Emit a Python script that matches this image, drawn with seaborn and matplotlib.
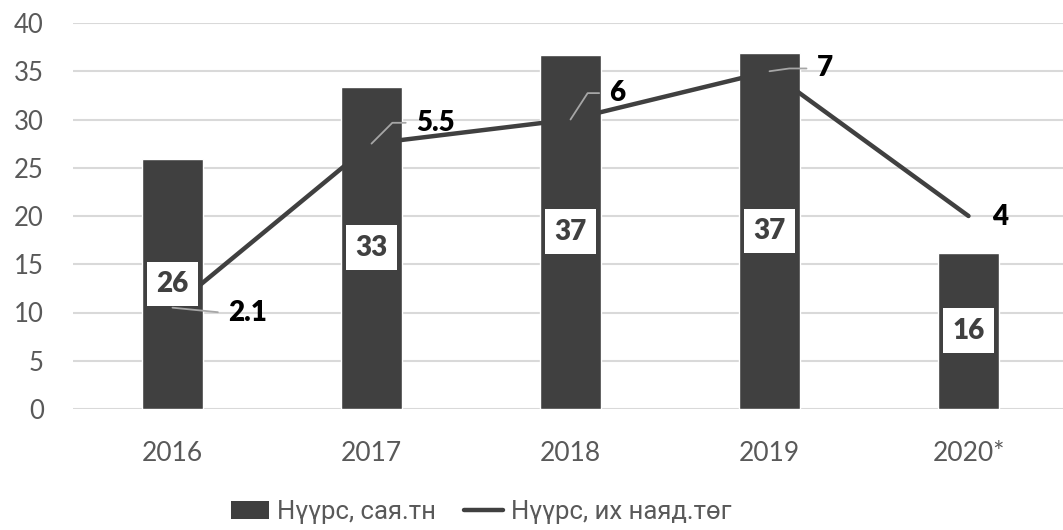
import matplotlib
matplotlib.use("Agg")
import matplotlib.pyplot as plt
import seaborn as sns
import numpy as np
import pandas as pd
from matplotlib.font_manager import FontProperties
from matplotlib.patches import Patch
from matplotlib.lines import Line2D

# data
years = ["2016", "2017", "2018", "2019", "2020*"]
coal_mt = [25.9, 33.4, 36.7, 36.9, 16.2]          # Нүүрс, сая.тн (left axis)
coal_trn_mnt = [2.1, 5.5, 6, 7, 4]                # Нүүрс, их наяд.төг (hidden right axis)
line_labels = ["2.1", "5.5", "6", "7", "4"]
bar_name = "Нүүрс, сая.тн"
line_name = "Нүүрс, их наяд.төг"

DARK = "#404040"
GRID = "#d9d9d9"
TICK = "#595959"
LEADER = "#a6a6a6"

sns.set_theme(style="white")
plt.rcParams["font.family"] = ["Lato", "DejaVu Sans"]

fig = plt.figure(figsize=(10.63, 5.30), dpi=100)
ax = fig.add_axes([73 / 1063, 121 / 530, 995 / 1063, 386 / 530])

df = pd.DataFrame({"year": years, "value": coal_mt})
sns.barplot(data=df, x="year", y="value", color=DARK, saturation=1,
            width=0.31, ax=ax, zorder=2)

ax.set_ylim(0, 40)
ax.set_yticks(range(0, 41, 5))
ax.set_xlim(-0.5, len(years) - 0.5)
ax.yaxis.grid(True, color=GRID, lw=1.5)
ax.set_axisbelow(True)
for s in ax.spines.values():
    s.set_visible(False)
ax.set_xlabel("")
ax.set_ylabel("")
ax.tick_params(axis="y", length=0, pad=21, labelsize=18.5, labelcolor=TICK)
ax.tick_params(axis="x", length=0, pad=23, labelsize=19, labelcolor=TICK)

# line on a hidden secondary axis
ax2 = ax.twinx()
ax2.set_ylim(0, 8)
ax2.axis("off")
xs = np.arange(len(years))
sns.lineplot(x=xs, y=coal_trn_mnt, ax=ax2, color=DARK, lw=3.2, zorder=2)

# line labels with leader lines (offsets in points)
offsets = [(40, -4), (32, 15), (28, 19), (34, 2), (17, -1)]
connectors = ["arc3,rad=0", "angle,angleA=0,angleB=45,rad=0",
              "angle,angleA=0,angleB=57,rad=0", "angle,angleA=0,angleB=8,rad=0", None]
for i, (v, lab) in enumerate(zip(coal_trn_mnt, line_labels)):
    arrow = None
    if connectors[i]:
        arrow = dict(arrowstyle="-", color=LEADER, lw=1.3, shrinkA=5, shrinkB=0,
                     relpos=(0, 0.5), connectionstyle=connectors[i])
    ax2.annotate(lab, xy=(xs[i], v), xytext=offsets[i], textcoords="offset points",
                 ha="left", va="center", fontsize=20, fontweight="heavy",
                 color="black", arrowprops=arrow, zorder=3)

# bar value boxes, drawn above the line
for i, v in enumerate(coal_mt):
    ax2.annotate(f"{v:.0f}", xy=(xs[i], v / 2), xycoords=ax.transData,
                 ha="center", va="center", fontsize=20, fontweight="heavy", color=DARK,
                 bbox=dict(boxstyle="square,pad=0.34", fc="white", ec="none"), zorder=6)

legend_font = FontProperties(family=["Roboto", "DejaVu Sans"], size=18.5)
handles = [Patch(facecolor=DARK, edgecolor="none"), Line2D([0], [0], color=DARK, lw=3.2)]
fig.legend(handles, [bar_name, line_name], loc="center", bbox_to_anchor=(0.4525, 18 / 530),
           ncol=2, frameon=False, prop=legend_font, labelcolor=TICK,
           handlelength=1.5, handletextpad=0.3, columnspacing=1.1)

fig.savefig("out.png", dpi=100)
